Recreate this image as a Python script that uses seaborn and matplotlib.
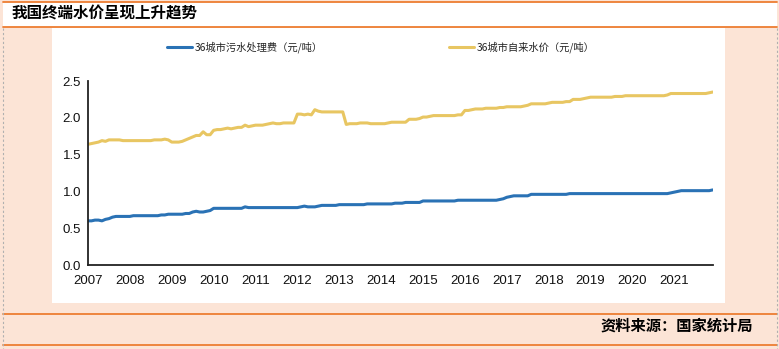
import numpy as np
import pandas as pd
import seaborn as sns
import matplotlib
matplotlib.use("Agg")
import matplotlib.pyplot as plt
from matplotlib.lines import Line2D
from matplotlib.patches import Rectangle

# ---------------- data (monthly, Jan 2007 - Dec 2021) ----------------
years = list(range(2007, 2022))
series_names = ["36城市污水处理费（元/吨）", "36城市自来水价（元/吨）"]

sewage_fee = [
    0.60, 0.60, 0.61, 0.61, 0.60, 0.62, 0.63, 0.65, 0.66, 0.66, 0.66, 0.66,  # 2007
    0.66, 0.67, 0.67, 0.67, 0.67, 0.67, 0.67, 0.67, 0.67, 0.68, 0.68, 0.69,  # 2008
    0.69, 0.69, 0.69, 0.69, 0.70, 0.70, 0.72, 0.73, 0.72, 0.72, 0.73, 0.74,  # 2009
    0.77, 0.77, 0.77, 0.77, 0.77, 0.77, 0.77, 0.77, 0.77, 0.79, 0.78, 0.78,  # 2010
    0.78, 0.78, 0.78, 0.78, 0.78, 0.78, 0.78, 0.78, 0.78, 0.78, 0.78, 0.78,  # 2011
    0.78, 0.79, 0.80, 0.79, 0.79, 0.79, 0.80, 0.81, 0.81, 0.81, 0.81, 0.81,  # 2012
    0.82, 0.82, 0.82, 0.82, 0.82, 0.82, 0.82, 0.82, 0.83, 0.83, 0.83, 0.83,  # 2013
    0.83, 0.83, 0.83, 0.83, 0.84, 0.84, 0.84, 0.85, 0.85, 0.85, 0.85, 0.85,  # 2014
    0.87, 0.87, 0.87, 0.87, 0.87, 0.87, 0.87, 0.87, 0.87, 0.87, 0.88, 0.88,  # 2015
    0.88, 0.88, 0.88, 0.88, 0.88, 0.88, 0.88, 0.88, 0.88, 0.88, 0.89, 0.90,  # 2016
    0.92, 0.93, 0.94, 0.94, 0.94, 0.94, 0.94, 0.96, 0.96, 0.96, 0.96, 0.96,  # 2017
    0.96, 0.96, 0.96, 0.96, 0.96, 0.96, 0.97, 0.97, 0.97, 0.97, 0.97, 0.97,  # 2018
    0.97, 0.97, 0.97, 0.97, 0.97, 0.97, 0.97, 0.97, 0.97, 0.97, 0.97, 0.97,  # 2019
    0.97, 0.97, 0.97, 0.97, 0.97, 0.97, 0.97, 0.97, 0.97, 0.97, 0.97, 0.98,  # 2020
    0.99, 1.00, 1.01, 1.01, 1.01, 1.01, 1.01, 1.01, 1.01, 1.01, 1.01, 1.02,  # 2021
]

tap_water_price = [
    1.64, 1.65, 1.66, 1.67, 1.69, 1.68, 1.70, 1.70, 1.70, 1.70, 1.69, 1.69,  # 2007
    1.69, 1.69, 1.69, 1.69, 1.69, 1.69, 1.69, 1.70, 1.70, 1.70, 1.71, 1.70,  # 2008
    1.67, 1.67, 1.67, 1.68, 1.70, 1.72, 1.74, 1.76, 1.76, 1.81, 1.77, 1.77,  # 2009
    1.83, 1.84, 1.84, 1.85, 1.86, 1.85, 1.86, 1.87, 1.87, 1.90, 1.88, 1.89,  # 2010
    1.90, 1.90, 1.90, 1.91, 1.92, 1.93, 1.92, 1.92, 1.93, 1.93, 1.93, 1.93,  # 2011
    2.05, 2.05, 2.04, 2.05, 2.04, 2.11, 2.09, 2.08, 2.08, 2.08, 2.08, 2.08,  # 2012
    2.08, 2.08, 1.91, 1.92, 1.92, 1.92, 1.93, 1.93, 1.93, 1.92, 1.92, 1.92,  # 2013
    1.92, 1.92, 1.93, 1.94, 1.94, 1.94, 1.94, 1.94, 1.98, 1.98, 1.98, 1.99,  # 2014
    2.01, 2.01, 2.02, 2.03, 2.03, 2.03, 2.03, 2.03, 2.03, 2.03, 2.04, 2.04,  # 2015
    2.10, 2.10, 2.11, 2.12, 2.12, 2.12, 2.13, 2.13, 2.13, 2.13, 2.14, 2.14,  # 2016
    2.15, 2.15, 2.15, 2.15, 2.15, 2.16, 2.17, 2.19, 2.19, 2.19, 2.19, 2.19,  # 2017
    2.20, 2.21, 2.21, 2.21, 2.21, 2.22, 2.22, 2.25, 2.25, 2.25, 2.26, 2.27,  # 2018
    2.28, 2.28, 2.28, 2.28, 2.28, 2.28, 2.28, 2.29, 2.29, 2.29, 2.30, 2.30,  # 2019
    2.30, 2.30, 2.30, 2.30, 2.30, 2.30, 2.30, 2.30, 2.30, 2.30, 2.31, 2.33,  # 2020
    2.33, 2.33, 2.33, 2.33, 2.33, 2.33, 2.33, 2.33, 2.33, 2.33, 2.34, 2.35,  # 2021
]

y_ticks = [0.0, 0.5, 1.0, 1.5, 2.0, 2.5]
x_ticks = years

title_text = "我国终端水价呈现上升趋势"
source_text = "资料来源：国家统计局"

# ---------------- styling ----------------
BLUE = "#2a72b5"
YELLOW = "#e8c662"
PEACH = "#fce4d6"
ORANGE = "#ed7d31"

W, H = 779, 349
sns.set_theme(style="white")
plt.rcParams["font.family"] = ["Liberation Sans Narrow", "Liberation Sans", "Noto Sans CJK SC", "DejaVu Sans"]

fig = plt.figure(figsize=(W / 100, H / 100), dpi=100, facecolor=PEACH)

def fx(x):
    return x / W

def fy(y):
    return 1 - y / H

# white bands
fig.patches.append(Rectangle((fx(3), fy(27)), fx(774), 25 / H, transform=fig.transFigure,
                             facecolor="white", edgecolor="none", zorder=-10))
fig.patches.append(Rectangle((fx(52), fy(303)), fx(725 - 52), (303 - 28) / H, transform=fig.transFigure,
                             facecolor="white", edgecolor="none", zorder=-10))
# orange rules
for yy in (2, 27, 314, 345):
    fig.add_artist(Line2D([fx(3), fx(777)], [fy(yy), fy(yy)], transform=fig.transFigure,
                          color=ORANGE, lw=1.3))
# dashed gray edges
for xx in (3, 777):
    fig.add_artist(Line2D([fx(xx), fx(xx)], [fy(28), fy(349)], transform=fig.transFigure,
                          color="#b0b0b0", lw=0.8, ls=(0, (2, 2))))

# ---------------- main axes ----------------
ax = fig.add_axes([fx(88), fy(265), fx(712.7 - 88), (265 - 81) / H])
ax.set_zorder(5)
ax.patch.set_alpha(0)

n = len(sewage_fee)
t = np.array([2007 + i / 12 for i in range(n)])
df = pd.DataFrame({
    "t": np.concatenate([t, t]),
    "v": np.array(sewage_fee + tap_water_price),
    "s": [series_names[0]] * n + [series_names[1]] * n,
})
sns.lineplot(data=df, x="t", y="v", hue="s", palette=[BLUE, YELLOW], lw=2.2,
             ax=ax, legend=False)

ax.set_xlim(2007, t[-1])
ax.set_ylim(0, 2.5)
ax.set_xticks(x_ticks)
ax.set_xticklabels([str(y) for y in x_ticks])
ax.set_yticks(y_ticks)
ax.set_yticklabels([f"{v:.1f}" for v in y_ticks])
ax.set_xlabel("")
ax.set_ylabel("")
for sp in ("top", "right"):
    ax.spines[sp].set_visible(False)
for sp in ("left", "bottom"):
    ax.spines[sp].set_color("#222222")
    ax.spines[sp].set_linewidth(1.3)
ax.tick_params(axis="both", which="major", direction="out", length=3, width=1,
               color="#222222", labelsize=9.5, labelcolor="#111111", pad=2)
ax.tick_params(axis="x", pad=4)
ax.grid(False)

# legend
handles = [Line2D([], [], color=BLUE, lw=2.2), Line2D([], [], color=YELLOW, lw=2.2)]
leg = fig.legend(handles, series_names, loc="center left", bbox_to_anchor=(fx(158), fy(47)),
                 ncol=2, frameon=False, handlelength=2.45, handletextpad=0.2,
                 columnspacing=12.3, prop={"family": ["Noto Sans CJK SC"], "size": 7.4})
for txt in leg.get_texts():
    txt.set_color("#222222")

# title and source
fig.text(fx(12), fy(14), title_text, ha="left", va="center", fontsize=11.2, fontweight="bold",
         family=["Noto Sans CJK SC"], color="black")
fig.text(fx(753), fy(326), source_text, ha="right", va="center", fontsize=11, fontweight="bold",
         family=["Noto Sans CJK SC"], color="black")

fig.savefig("out.png", dpi=100, facecolor=PEACH)
